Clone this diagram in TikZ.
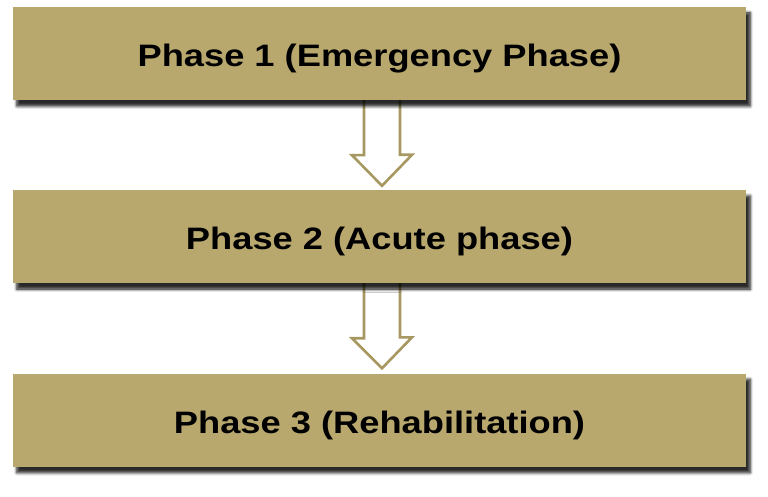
\documentclass[tikz,border=0pt]{standalone}
\usepackage{fontspec}
\setmainfont{Liberation Sans}
\usetikzlibrary{shadows.blur,backgrounds,calc}
\definecolor{khaki}{RGB}{184,168,110}
\definecolor{olive}{RGB}{166,152,96}
\tikzset{
  phasebox/.style={rectangle, fill=khaki, minimum width=733bp, minimum height=93bp,
    inner sep=0pt, text height=27bp, text depth=0bp,
    font=\fontsize{31bp}{36bp}\selectfont\bfseries,
    blur shadow={shadow xshift=5bp, shadow yshift=-8bp, shadow blur radius=5bp, shadow opacity=100},
    blur shadow={shadow xshift=4bp, shadow yshift=-6bp, shadow blur radius=3bp, shadow opacity=60}},
  hollow/.style={draw=olive, fill=white, line width=2.6bp, line join=miter}
}
\newcommand{\wide}[1]{\scalebox{1.17}[1]{#1}}
\begin{document}
\begin{tikzpicture}[x=1bp,y=-1bp]
\useasboundingbox (0,0) rectangle (768,497);
\node[phasebox] (b1) at (379.5,53.5) {\wide{Phase 1 (Emergency Phase)}};
\node[phasebox] (b2) at (379.5,236.5) {\wide{Phase 2 (Acute phase)}};
\node[phasebox] (b3) at (379.5,420) {\wide{Phase 3 (Rehabilitation)}};
\begin{scope}[on background layer]
\draw[hollow] ([xshift=-15.5bp]b1.south) -- ++(0,55) -- ++(-12,0)
  -- ([xshift=2.5bp,yshift=4bp]b2.north) -- ++(30,-31) -- ++(-12,0) -- ++(0,-55);
\draw[hollow] ([xshift=-15.5bp]b2.south) -- ++(0,55) -- ++(-12,0)
  -- ([xshift=2.5bp,yshift=5bp]b3.north) -- ++(30,-31) -- ++(-12,0) -- ++(0,-55);
\end{scope}
\end{tikzpicture}
\end{document}
